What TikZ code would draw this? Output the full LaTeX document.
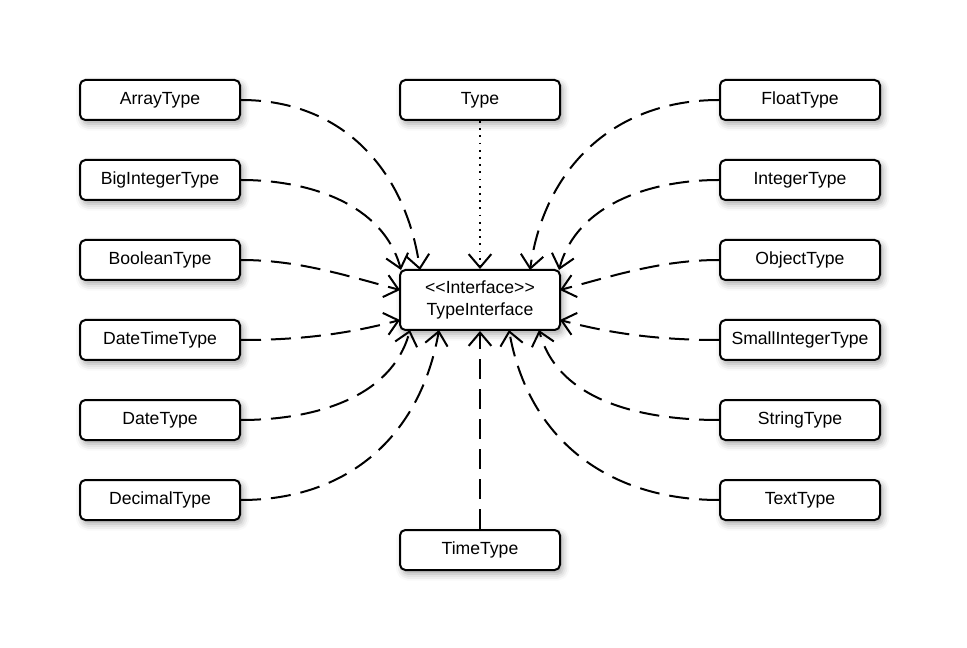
\documentclass[tikz,border=0pt]{standalone}
\usepackage{fontspec}
\setmainfont{Liberation Sans}
\usetikzlibrary{arrows.meta,shadows.blur}
\begin{document}
\begin{tikzpicture}[x=0.75pt,y=-0.75pt,
  box/.style={draw=black,line width=1.5pt,rounded corners=4pt,fill=white,
    minimum width=120pt,minimum height=30pt,inner sep=2pt,
    font=\fontsize{13.2}{16}\selectfont,align=center,
    blur shadow={shadow xshift=2pt,shadow yshift=-3pt,shadow blur radius=5pt,shadow opacity=35}},
  dep/.style={line width=1.5pt,dash pattern=on 15pt off 7.5pt,
    -{Straight Barb[length=10pt,width=17pt,line width=1.5pt]}},
  dotdep/.style={line width=1.4pt,dash pattern=on 1.4pt off 4pt,
    -{Straight Barb[length=10pt,width=17pt,line width=1.5pt,line cap=butt]}}]
\useasboundingbox (0,0) rectangle (967,648);
% left column
\node[box] (array) at (160,100) {ArrayType};
\node[box] (bigint) at (160,180) {BigIntegerType};
\node[box] (bool) at (160,260) {BooleanType};
\node[box] (datetime) at (160,340) {DateTimeType};
\node[box] (date) at (160,420) {DateType};
\node[box] (decimal) at (160,500) {DecimalType};
% right column
\node[box] (float) at (800,100) {FloatType};
\node[box] (integer) at (800,180) {IntegerType};
\node[box] (object) at (800,260) {ObjectType};
\node[box] (smallint) at (800,340) {SmallIntegerType};
\node[box] (string) at (800,420) {StringType};
\node[box] (text) at (800,500) {TextType};
% center
\node[box] (type) at (480,100) {Type};
\node[box,minimum height=45pt] (iface) at (480,300) {<\kern0pt<Interface>\kern0pt>\\TypeInterface};
\node[box] (time) at (480,550) {TimeType};
% anchors on the interface
\coordinate (tA) at (420,270);
\coordinate (tB) at (401,270);
\coordinate (tF) at (530,270);
\coordinate (tI) at (559,270);
\coordinate (lU) at (400,290);
\coordinate (lD) at (400,320);
\coordinate (rU) at (560,290);
\coordinate (rD) at (560,320);
\coordinate (b1) at (410,330);
\coordinate (b2) at (439,330);
\coordinate (b4) at (509,330);
\coordinate (b5) at (539,330);
% connectors
\draw[dep] (array.east) to[out=0,in=98,looseness=1.05] (tA);
\draw[dep] (bigint.east) to[out=0,in=105,looseness=0.95] (tB);
\draw[dep] (bool.east) to[out=0,in=165,looseness=0.9] (lU);
\draw[dep] (datetime.east) to[out=0,in=195,looseness=0.9] (lD);
\draw[dep] (date.east) to[out=0,in=-105,looseness=0.95] (b1);
\draw[dep] (decimal.east) to[out=0,in=-100,looseness=1.05] (b2);
\draw[dep] (float.west) to[out=180,in=82,looseness=1.05] (tF);
\draw[dep] (integer.west) to[out=180,in=75,looseness=0.95] (tI);
\draw[dep] (object.west) to[out=180,in=15,looseness=0.9] (rU);
\draw[dep] (smallint.west) to[out=180,in=-15,looseness=0.9] (rD);
\draw[dep] (string.west) to[out=180,in=-75,looseness=0.95] (b5);
\draw[dep] (text.west) to[out=180,in=-80,looseness=1.05] (b4);
\draw[dep] (time.north) -- (iface.south);
\draw[dotdep] (type.south) -- (iface.north);
\end{tikzpicture}
\end{document}
